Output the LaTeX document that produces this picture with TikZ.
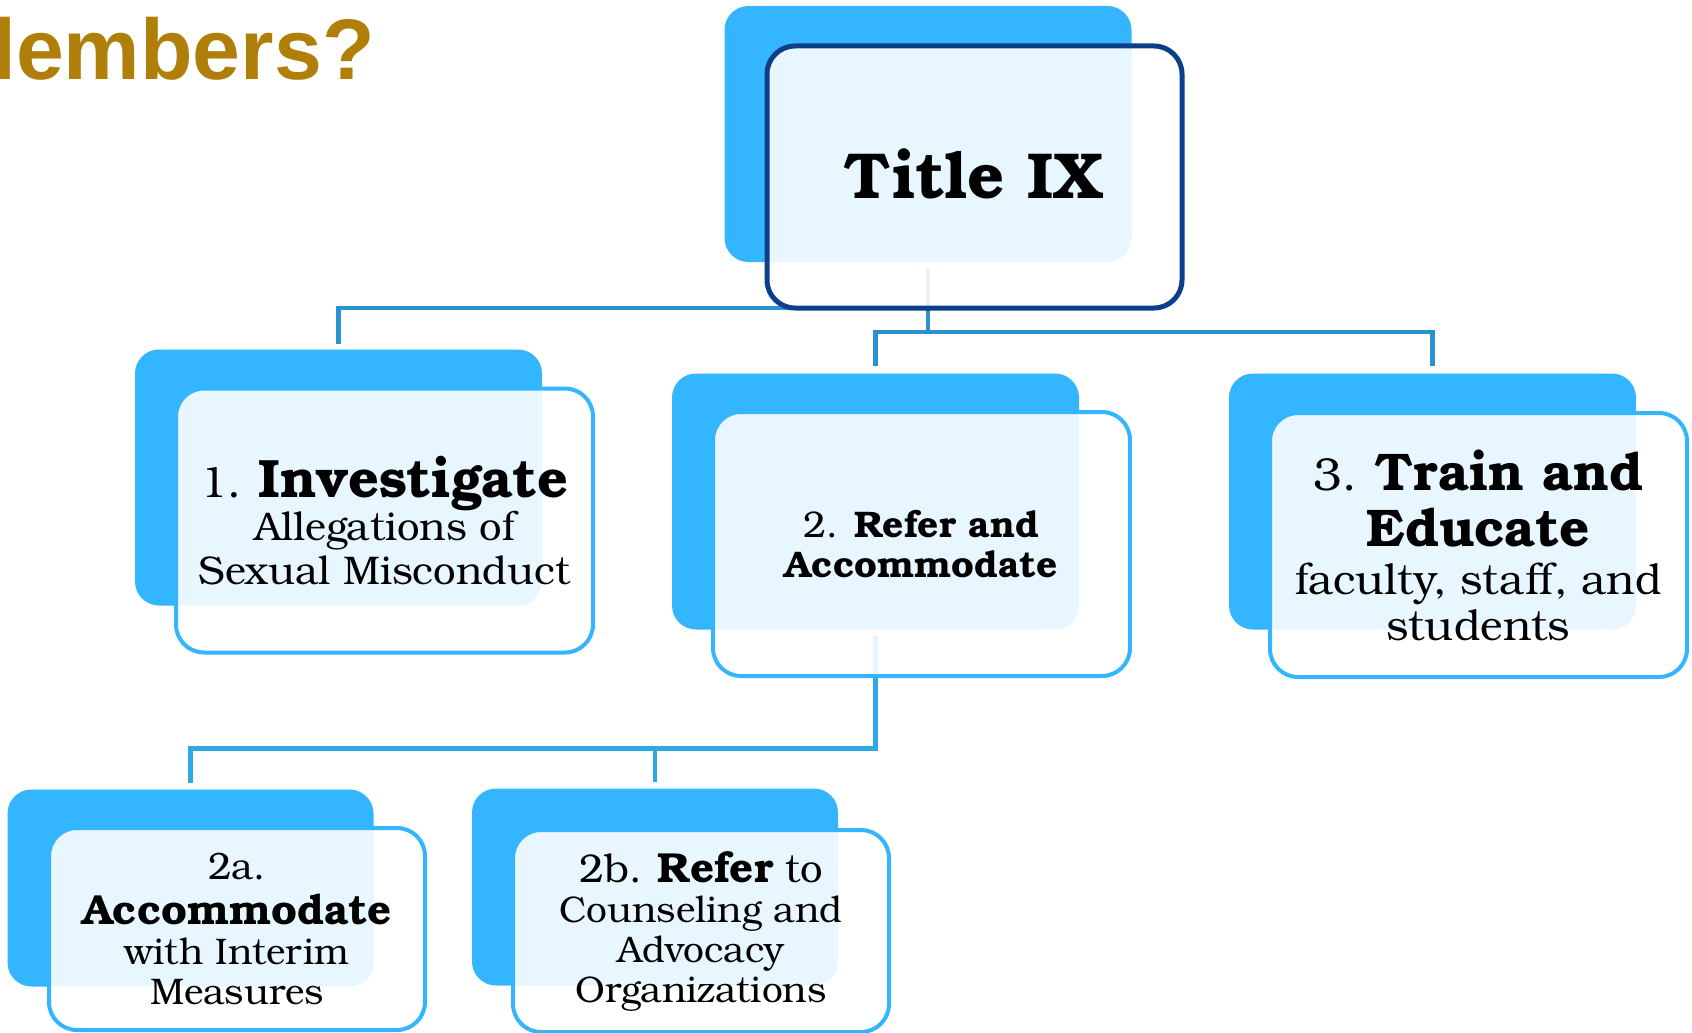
\documentclass[tikz,border=0pt]{standalone}
\usepackage{fontspec}
\setmainfont{TeX Gyre Bonum}
\newfontfamily\headfont{Liberation Sans}
\usetikzlibrary{positioning}

\definecolor{headgold}{HTML}{B07F0A}
\definecolor{skyback}{HTML}{33B5FF}
\definecolor{skyline}{HTML}{33B5FF}
\definecolor{navyline}{HTML}{0B3F8A}
\definecolor{toplinkc}{HTML}{2A93CF}
\definecolor{lowlinkc}{HTML}{2EA9E6}

\tikzset{
  backbox/.style={fill=skyback, rounded corners=24pt, inner sep=0pt,
    minimum width=407pt, minimum height=256pt},
  frontbox/.style={fill=white, fill opacity=0.89, text opacity=1, text=black,
    draw=skyline, line width=4pt, rounded corners=28pt, inner sep=0pt,
    minimum width=417pt, minimum height=264pt, align=center},
  smallback/.style={backbox, minimum width=366pt, minimum height=197pt},
  smallfront/.style={frontbox, minimum width=376pt, minimum height=202pt},
  toplink/.style={draw=toplinkc, line width=4.5pt},
  lowlink/.style={draw=lowlinkc, line width=4.5pt},
}
\newcommand{\bigbf}[2]{{\fontsize{#1}{#1}\selectfont\bfseries #2}}

\begin{document}
\begin{tikzpicture}[x=1pt,y=-1pt]
    \useasboundingbox (0,0) rectangle (1692,1033);

    % heading, cut off at the left edge
    \node[anchor=base west, inner sep=0pt, text=headgold,
          font=\headfont\bfseries\fontsize{86}{94}\selectfont] (head) at (-8,80) {lembers?};

    % back boxes
    \node[backbox] (tb) at (928,134) {};
    \node[backbox] (ib) at (338.5,477.5) {};
    \node[backbox] (rb) at (875.5,501.5) {};
    \node[backbox] (eb) at (1432.5,501.5) {};
    \node[smallback] (ab) at (190.5,888) {};
    \node[smallback] (cb) at (655,887) {};

    % connectors
    \draw[toplink] ([yshift=-6pt]tb.south) -- ++(0,40) -| ([yshift=5pt]ib.north);
    \draw[toplink] ([yshift=-6pt]tb.south) -- ++(0,64) -| ([yshift=7pt]rb.north);
    \draw[toplink] ([yshift=-6pt]tb.south) -- ++(0,64) -| ([yshift=7pt]eb.north);
    \draw[lowlink] ([yshift=-6pt]rb.south) -- ++(0,113) -| ([yshift=6pt]ab.north);
    \draw[lowlink] ([yshift=-6pt]rb.south) -- ++(0,113) -| ([yshift=6pt]cb.north);

    % front boxes
    \node[frontbox, draw=navyline, line width=5pt, minimum width=415pt, minimum height=262pt,
          text depth=6pt, font=\bfseries\fontsize{65}{70}\selectfont] (title) at (974.5,177) {Title IX};
    \node[frontbox, font=\fontsize{40}{43.5}\selectfont] (inv) at (384.5,520.5)
        {{\fontsize{44}{44}\selectfont 1.} \bigbf{54}{Investigate}\\Allegations of\\Sexual Misconduct};
    \node[frontbox, font=\fontsize{37}{40}\selectfont] (ref) at (921.5,544)
        {2. \textbf{Refer and}\\\textbf{Accommodate}};
    \node[frontbox, font=\fontsize{43}{46}\selectfont] (edu) at (1478.5,545)
        {{\fontsize{46}{46}\selectfont 3.} \bigbf{53}{Train and}\\[10pt]\bigbf{53}{Educate}\\[2pt]faculty, staff, and\\students};
    \node[smallfront, font=\fontsize{37}{40}\selectfont] (acc) at (237,929)
        {{\fontsize{38}{40}\selectfont 2a.}\\[5pt]\bigbf{42}{Accommodate}\\with Interim\\Measures};
    \node[smallfront, font=\fontsize{37}{40}\selectfont] (cou) at (701,931)
        {{\fontsize{40}{40}\selectfont 2b.} \bigbf{42}{Refer} {\fontsize{40}{40}\selectfont to}\\Counseling and\\Advocacy\\Organizations};
\end{tikzpicture}
\end{document}
